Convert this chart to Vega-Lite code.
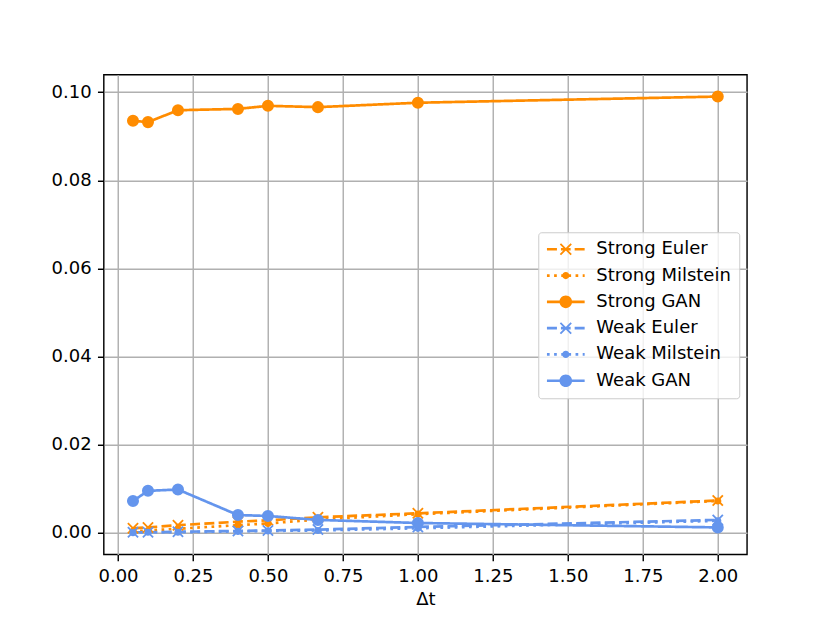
{
  "$schema": "https://vega.github.io/schema/vega-lite/v6.json",
  "autosize": "none",
  "padding": {"left": 103.75, "top": 74.76, "right": 83, "bottom": 68.5},
  "width": 643.25,
  "height": 479.74,
  "data": {
    "values": [
      {"dt": 0.05, "err": 0.0010, "series": "Strong Euler"},
      {"dt": 0.1, "err": 0.0012, "series": "Strong Euler"},
      {"dt": 0.2, "err": 0.0017, "series": "Strong Euler"},
      {"dt": 0.4, "err": 0.0025, "series": "Strong Euler"},
      {"dt": 0.5, "err": 0.0028, "series": "Strong Euler"},
      {"dt": 0.6667, "err": 0.0035, "series": "Strong Euler"},
      {"dt": 1.0, "err": 0.0044, "series": "Strong Euler"},
      {"dt": 2.0, "err": 0.0073, "series": "Strong Euler"},
      {"dt": 0.05, "err": 0.0003, "series": "Strong Milstein"},
      {"dt": 0.1, "err": 0.0005, "series": "Strong Milstein"},
      {"dt": 0.2, "err": 0.0009, "series": "Strong Milstein"},
      {"dt": 0.4, "err": 0.0017, "series": "Strong Milstein"},
      {"dt": 0.5, "err": 0.0021, "series": "Strong Milstein"},
      {"dt": 0.6667, "err": 0.0030, "series": "Strong Milstein"},
      {"dt": 1.0, "err": 0.0042, "series": "Strong Milstein"},
      {"dt": 2.0, "err": 0.0072, "series": "Strong Milstein"},
      {"dt": 0.05, "err": 0.0935, "series": "Strong GAN"},
      {"dt": 0.1, "err": 0.0932, "series": "Strong GAN"},
      {"dt": 0.2, "err": 0.0959, "series": "Strong GAN"},
      {"dt": 0.4, "err": 0.0962, "series": "Strong GAN"},
      {"dt": 0.5, "err": 0.0969, "series": "Strong GAN"},
      {"dt": 0.6667, "err": 0.0966, "series": "Strong GAN"},
      {"dt": 1.0, "err": 0.0976, "series": "Strong GAN"},
      {"dt": 2.0, "err": 0.0990, "series": "Strong GAN"},
      {"dt": 0.05, "err": 0.0001, "series": "Weak Euler"},
      {"dt": 0.1, "err": 0.0001, "series": "Weak Euler"},
      {"dt": 0.2, "err": 0.0002, "series": "Weak Euler"},
      {"dt": 0.4, "err": 0.0004, "series": "Weak Euler"},
      {"dt": 0.5, "err": 0.0005, "series": "Weak Euler"},
      {"dt": 0.6667, "err": 0.0007, "series": "Weak Euler"},
      {"dt": 1.0, "err": 0.0013, "series": "Weak Euler"},
      {"dt": 2.0, "err": 0.0029, "series": "Weak Euler"},
      {"dt": 0.05, "err": 0.0000, "series": "Weak Milstein"},
      {"dt": 0.1, "err": 0.0001, "series": "Weak Milstein"},
      {"dt": 0.2, "err": 0.0001, "series": "Weak Milstein"},
      {"dt": 0.4, "err": 0.0003, "series": "Weak Milstein"},
      {"dt": 0.5, "err": 0.0004, "series": "Weak Milstein"},
      {"dt": 0.6667, "err": 0.0005, "series": "Weak Milstein"},
      {"dt": 1.0, "err": 0.0010, "series": "Weak Milstein"},
      {"dt": 2.0, "err": 0.0027, "series": "Weak Milstein"},
      {"dt": 0.05, "err": 0.0072, "series": "Weak GAN"},
      {"dt": 0.1, "err": 0.0095, "series": "Weak GAN"},
      {"dt": 0.2, "err": 0.0098, "series": "Weak GAN"},
      {"dt": 0.4, "err": 0.0040, "series": "Weak GAN"},
      {"dt": 0.5, "err": 0.0038, "series": "Weak GAN"},
      {"dt": 0.6667, "err": 0.0029, "series": "Weak GAN"},
      {"dt": 1.0, "err": 0.0022, "series": "Weak GAN"},
      {"dt": 2.0, "err": 0.0012, "series": "Weak GAN"}
    ]
  },
  "encoding": {
    "x": {
      "field": "dt", "type": "quantitative", "title": "Δt",
      "scale": {"domain": [-0.0475, 2.0975], "nice": false, "zero": false},
      "axis": {"values": [0, 0.25, 0.5, 0.75, 1, 1.25, 1.5, 1.75, 2], "format": ".2f", "titlePadding": 5}
    },
    "y": {
      "field": "err", "type": "quantitative", "title": null,
      "scale": {"domain": [-0.00495, 0.10395], "nice": false, "zero": false},
      "axis": {"values": [0, 0.02, 0.04, 0.06, 0.08, 0.1], "format": ".2f"}
    }
  },
  "layer": [
    {
      "mark": {"type": "line", "strokeWidth": 2.7},
      "encoding": {
        "color": {
          "field": "series", "type": "nominal", "legend": null,
          "scale": {
            "domain": ["Weak GAN", "Weak Milstein", "Weak Euler", "Strong GAN", "Strong Milstein", "Strong Euler"],
            "range": ["#6495ed", "#6495ed", "#6495ed", "#ff8c00", "#ff8c00", "#ff8c00"]
          }
        },
        "strokeDash": {
          "field": "series", "type": "nominal", "legend": null,
          "scale": {
            "domain": ["Strong GAN", "Strong Euler", "Strong Milstein", "Weak GAN", "Weak Euler", "Weak Milstein"],
            "range": [[1, 0], [10, 4.3], [2.7, 4.45], [1, 0], [10, 4.3], [2.7, 4.45]]
          }
        }
      }
    },
    {
      "mark": {"type": "point", "filled": true, "opacity": 1, "strokeWidth": 1.8},
      "encoding": {
        "fill": {
          "field": "series", "type": "nominal",
          "scale": {
            "domain": ["Strong Euler", "Strong Milstein", "Strong GAN", "Weak Euler", "Weak Milstein", "Weak GAN"],
            "range": ["#ff8c00", "#ff8c00", "#ff8c00", "#6495ed", "#6495ed", "#6495ed"]
          },
          "legend": {
            "title": null, "orient": "none", "legendX": 434.5, "legendY": 157.5,
            "padding": 8, "rowPadding": 8.3, "labelOffset": 32.1, "symbolSize": 196,
            "symbolStrokeWidth": 0, "symbolStrokeColor": "transparent", "symbolOpacity": 1,
            "labelFont": "DejaVu Sans", "labelFontSize": 18, "labelColor": "black", "labelLimit": 400,
            "fillColor": "rgba(255,255,255,0.8)", "strokeColor": "#cccccc", "cornerRadius": 3
          }
        },
        "stroke": {
          "field": "series", "type": "nominal", "legend": null,
          "scale": {
            "domain": ["Weak Euler", "Weak Milstein", "Weak GAN", "Strong Euler", "Strong Milstein", "Strong GAN"],
            "range": ["#6495ed", "#6495ed", "#6495ed", "#ff8c00", "#ff8c00", "#ff8c00"]
          }
        },
        "shape": {
          "condition": {"test": "indexof(datum.series, 'Euler') >= 0", "value": "M-1,-1L1,1M-1,1L1,-1"},
          "value": "circle"
        },
        "size": {
          "condition": {"test": "indexof(datum.series, 'Milstein') >= 0", "value": 29},
          "value": 105
        }
      }
    },
    {
      "transform": [{"filter": "false"}],
      "mark": {"type": "point", "filled": true, "opacity": 1},
      "encoding": {
        "fill": {
          "field": "series", "type": "nominal",
          "scale": {
            "domain": ["Strong Euler", "Strong Milstein", "Strong GAN", "Weak Euler", "Weak Milstein", "Weak GAN"],
            "range": ["#ff8c00", "#ff8c00", "#ff8c00", "#6495ed", "#6495ed", "#6495ed"]
          },
          "legend": {
            "title": null, "orient": "none", "legendX": 434.5, "legendY": 157.5,
            "padding": 8, "rowPadding": 8.3, "labelOffset": 32.1, "symbolSize": 196,
            "symbolStrokeWidth": 0, "symbolStrokeColor": "transparent", "symbolOpacity": 1,
            "labelFont": "DejaVu Sans", "labelFontSize": 18, "labelColor": "black", "labelLimit": 400,
            "fillColor": "rgba(255,255,255,0.8)", "strokeColor": "#cccccc", "cornerRadius": 3
          }
        },
        "shape": {
          "field": "series", "type": "nominal",
          "scale": {
            "domain": ["Strong Euler", "Strong Milstein", "Strong GAN", "Weak Euler", "Weak Milstein", "Weak GAN"],
            "range": [
              "M-1.186,-0.193H0.243V0.193H-1.186ZM0.814,-0.193H2.2V0.193H0.814ZM2.771,-0.193H4.2V0.193H2.771ZM0.645,-0.68L0.827,-0.862L2.369,0.68L2.187,0.862ZM2.187,-0.862L2.369,-0.68L0.827,0.862L0.645,0.68Z",
              "M-1.186,-0.193H-0.8V0.193H-1.186ZM-0.164,-0.193H0.221V0.193H-0.164ZM0.857,-0.193H1.243V0.193H0.857ZM1.879,-0.193H2.264V0.193H1.879ZM2.9,-0.193H3.286V0.193H2.9ZM3.921,-0.193H4.2V0.193H3.921ZM2.021,0A0.514,0.514,0,1,1,0.993,0A0.514,0.514,0,1,1,2.021,0Z",
              "M-1.186,-0.193H4.2V0.193H-1.186ZM2.407,0A0.9,0.9,0,1,1,0.607,0A0.9,0.9,0,1,1,2.407,0Z",
              "M-1.186,-0.193H0.243V0.193H-1.186ZM0.814,-0.193H2.2V0.193H0.814ZM2.771,-0.193H4.2V0.193H2.771ZM0.645,-0.68L0.827,-0.862L2.369,0.68L2.187,0.862ZM2.187,-0.862L2.369,-0.68L0.827,0.862L0.645,0.68Z",
              "M-1.186,-0.193H-0.8V0.193H-1.186ZM-0.164,-0.193H0.221V0.193H-0.164ZM0.857,-0.193H1.243V0.193H0.857ZM1.879,-0.193H2.264V0.193H1.879ZM2.9,-0.193H3.286V0.193H2.9ZM3.921,-0.193H4.2V0.193H3.921ZM2.021,0A0.514,0.514,0,1,1,0.993,0A0.514,0.514,0,1,1,2.021,0Z",
              "M-1.186,-0.193H4.2V0.193H-1.186ZM2.407,0A0.9,0.9,0,1,1,0.607,0A0.9,0.9,0,1,1,2.407,0Z"
            ]
          }
        }
      }
    }
  ],
  "config": {
    "view": {"stroke": "black", "strokeWidth": 1.44},
    "axis": {
      "domain": false,
      "labelFont": "DejaVu Sans", "labelFontSize": 18, "labelColor": "black", "labelPadding": 6.3,
      "tickColor": "black", "tickWidth": 1.44, "tickSize": 6.3,
      "gridColor": "#b0b0b0", "gridWidth": 1.44, "gridOpacity": 1,
      "titleFont": "DejaVu Sans", "titleFontSize": 18, "titleFontWeight": "normal", "titleColor": "black"
    }
  }
}
